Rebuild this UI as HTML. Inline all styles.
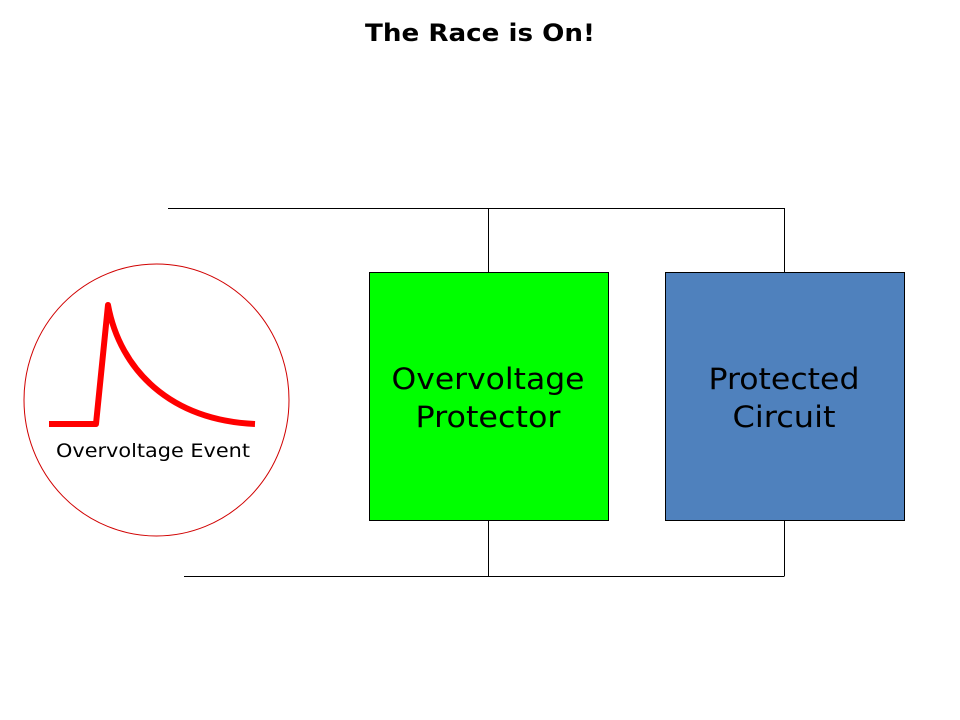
<!DOCTYPE html>
<html><head><style>
html,body{margin:0;padding:0;background:#fff;}
svg{display:block;}
text{font-family:"DejaVu Sans","Liberation Sans",sans-serif;}
</style></head><body>
<svg width="960" height="720" viewBox="0 0 960 720" xmlns="http://www.w3.org/2000/svg">
<rect width="960" height="720" fill="#fff"/>
<text x="480" y="41" text-anchor="middle" font-size="24" font-weight="bold" fill="#000" textLength="230" lengthAdjust="spacingAndGlyphs">The Race is On!</text>
<g stroke="#000" stroke-width="1" fill="none">
<line x1="168" y1="208.5" x2="784.5" y2="208.5"/>
<line x1="488.5" y1="208" x2="488.5" y2="272"/>
<line x1="784.5" y1="208" x2="784.5" y2="272"/>
<line x1="184" y1="576.5" x2="784.5" y2="576.5"/>
<line x1="488.5" y1="520" x2="488.5" y2="576"/>
<line x1="784.5" y1="520" x2="784.5" y2="576"/>
</g>
<rect x="369.5" y="272.5" width="239" height="248" fill="#00ff00" stroke="#000" stroke-width="1"/>
<rect x="665.5" y="272.5" width="239" height="248" fill="#4f81bd" stroke="#000" stroke-width="1"/>
<text x="488" y="389" text-anchor="middle" font-size="29" fill="#000" textLength="193" lengthAdjust="spacingAndGlyphs">Overvoltage</text>
<text x="488" y="427" text-anchor="middle" font-size="29" fill="#000" textLength="145" lengthAdjust="spacingAndGlyphs">Protector</text>
<text x="784" y="389" text-anchor="middle" font-size="29" fill="#000" textLength="151" lengthAdjust="spacingAndGlyphs">Protected</text>
<text x="784" y="427" text-anchor="middle" font-size="29" fill="#000" textLength="103" lengthAdjust="spacingAndGlyphs">Circuit</text>
<ellipse cx="156.5" cy="400" rx="132.5" ry="136" fill="none" stroke="#d00000" stroke-width="1"/>
<path d="M49 424 L96 424 L108 305 C120 370 170 420 255 424" fill="none" stroke="#ff0000" stroke-width="6" stroke-linejoin="round"/>
<text x="153" y="457" text-anchor="middle" font-size="19" fill="#000" textLength="194" lengthAdjust="spacingAndGlyphs">Overvoltage Event</text>
</svg>
</body></html>
